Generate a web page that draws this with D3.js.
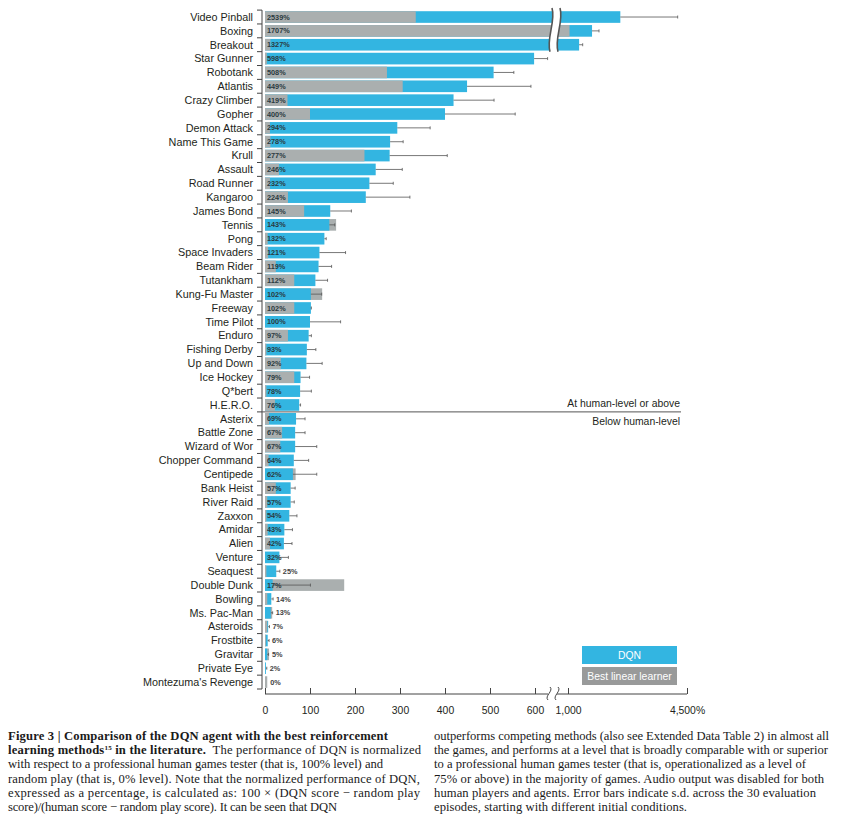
<!DOCTYPE html>
<html>
<head>
<meta charset="utf-8">
<script src="https://cdn.jsdelivr.net/npm/d3@7"></script>
<style>
  body { margin: 0; background: #fff; }
  svg { display: block; }
</style>
</head>
<body>
<svg id="chart" width="855" height="829"></svg>
<script>
//
// Data
//

var games = ["Video Pinball", "Boxing", "Breakout", "Star Gunner", "Robotank", "Atlantis", "Crazy Climber", "Gopher",
  "Demon Attack", "Name This Game", "Krull", "Assault", "Road Runner", "Kangaroo", "James Bond", "Tennis", "Pong",
  "Space Invaders", "Beam Rider", "Tutankham", "Kung-Fu Master", "Freeway", "Time Pilot", "Enduro", "Fishing Derby",
  "Up and Down", "Ice Hockey", "Q*bert", "H.E.R.O.", "Asterix", "Battle Zone", "Wizard of Wor", "Chopper Command",
  "Centipede", "Bank Heist", "River Raid", "Zaxxon", "Amidar", "Alien", "Venture", "Seaquest", "Double Dunk",
  "Bowling", "Ms. Pac-Man", "Asteroids", "Frostbite", "Gravitar", "Private Eye", "Montezuma's Revenge"];

// DQN normalized score (%)
var dqn = [2539, 1707, 1327, 598, 508, 449, 419, 400, 294, 278, 277, 246, 232, 224, 145, 143, 132,
  121, 119, 112, 102, 102, 100, 97, 93, 92, 79, 78, 76, 69, 67, 67, 64,
  62, 57, 57, 54, 43, 42, 32, 25, 17, 14, 13, 7, 6, 5, 2, 0];

// best linear learner normalized score (%)
var linear = [335, 1045, 12, 4, 271, 306, 50, 100, 11, 12, 221, 31, 11, 51, 87, 158, 6,
  7, 24, 65, 127, 65, 0, 51, 3, 35, 65, 3, 22, 9, 38, 34, 8,
  68, 24, 5, 3, 6, 11, 0, 3, 176, 5, 16, 5, 2, 9, 0, 5];

// DQN standard deviation (%)
var dqnSd = [1687, 205, 105, 30, 45, 142, 90, 156, 73, 29, 128, 59, 53, 98, 47, 12, 4,
  58, 29, 27, 24, 1, 68, 6, 20, 35, 20, 25, 3, 20, 22, 48, 33,
  53, 10, 8, 17, 18, 18, 20, 8, 84, 4, 4, 3, 3, 3, 2, 0];

var tickValues = [0, 100, 200, 300, 400, 500, 600, 1000, 4500];
var tickLabels = ["0", "100", "200", "300", "400", "500", "600", "1,000", "4,500%"];

var legendNames = ["DQN", "Best linear learner"];

var captionLeft = [
  [{t: "Figure 3 | Comparison of the DQN agent with the best reinforcement", b: true}],
  [{t: "learning methods", b: true}, {t: "15", b: true, sup: true}, {t: " in the literature.", b: true, down: true}, {t: "  The performance of DQN is normalized"}],
  [{t: "with respect to a professional human games tester (that is, 100% level) and"}],
  [{t: "random play (that is, 0% level). Note that the normalized performance of DQN,"}],
  [{t: "expressed as a percentage, is calculated as: 100 \u00d7 (DQN score \u2212 random play"}],
  [{t: "score)/(human score \u2212 random play score). It can be seen that DQN"}]
];
var captionRight = [
  "outperforms competing methods (also see Extended Data Table 2) in almost all",
  "the games, and performs at a level that is broadly comparable with or superior",
  "to a professional human games tester (that is, operationalized as a level of",
  "75% or above) in the majority of games. Audio output was disabled for both",
  "human players and agents. Error bars indicate s.d. across the 30 evaluation",
  "episodes, starting with different initial conditions."
];
// widths of each caption line as set in the figure
var captionLeftWidth = [380, 413, 375, 412, 412, 329];
var captionRightWidth = [395, 394, 372, 390, 382, 253];

//
// Set up
//

var blue = "#33b5e1", grey = "#aaafaf", greyLegend = "#999a9a", ink = "#231f20", errInk = "#555";
var sans = "'Liberation Sans', Arial, sans-serif";
var svg = d3.select("#chart");

// broken x scale: 0-630 linear, then 1000-4500 compressed
var x = d3.scaleLinear().domain([0, 630, 1000, 4500]).range([265, 548.5, 568, 687]);
var y = d3.scaleBand().domain(games).range([10.1, 689]).paddingInner(0.16).paddingOuter(0.08);
var step = y.step();

var rows = games.map(function(g, i) {
  return {game: g, dqn: dqn[i], lin: linear[i], sd: dqnSd[i]};
});

// bars: longer one behind, shorter one in front
var bars = svg.append("g");
rows.forEach(function(d) {
  var pair = [{v: d.dqn, c: blue}, {v: d.lin, c: grey}];
  pair.sort(function(a, b) { return b.v - a.v; });
  pair.forEach(function(p) {
    bars.append("rect")
      .attr("x", x(0))
      .attr("y", y(d.game))
      .attr("width", Math.max(0, x(p.v) - x(0)))
      .attr("height", y.bandwidth())
      .attr("fill", p.c);
  });
});

// error bars
var err = svg.append("g").attr("stroke", errInk).attr("stroke-width", 0.8);
rows.forEach(function(d) {
  if (d.sd <= 0) return;
  var cy = y(d.game) + y.bandwidth() / 2;
  err.append("line").attr("x1", x(d.dqn)).attr("x2", x(d.dqn + d.sd)).attr("y1", cy).attr("y2", cy);
  err.append("line").attr("x1", x(d.dqn + d.sd)).attr("x2", x(d.dqn + d.sd)).attr("y1", cy - 1.5).attr("y2", cy + 1.5);
});

// percentage labels
svg.append("g").selectAll("text").data(rows).join("text")
  .attr("x", function(d) {
    if (Math.max(d.dqn, d.lin) >= 30) return x(0) + 2;
    return Math.max(x(d.dqn + d.sd), x(d.lin), x(d.dqn)) + 3;
  })
  .attr("y", function(d) { return y(d.game) + y.bandwidth() / 2 + 2.6; })
  .attr("font-family", sans)
  .attr("font-size", "7.3px")
  .attr("font-weight", "bold")
  .attr("fill", function(d) { return Math.max(d.dqn, d.lin) >= 30 ? "#2a3a40" : "#444"; })
  .text(function(d) { return d.dqn + "%"; });

// y axis: line, ticks at band boundaries, labels
var yAxis = svg.append("g").attr("stroke", "#444").attr("stroke-width", 1);
var top0 = y.range()[0], bot0 = y.range()[1];
yAxis.append("line").attr("x1", 262).attr("x2", 262).attr("y1", top0).attr("y2", bot0);
d3.range(games.length + 1).forEach(function(k) {
  var yy = top0 + k * step;
  yAxis.append("line").attr("x1", 257).attr("x2", 262).attr("y1", yy).attr("y2", yy);
});
svg.append("g").selectAll("text").data(games).join("text")
  .attr("x", 253)
  .attr("y", function(g) { return y(g) + y.bandwidth() / 2 + 3.8; })
  .attr("text-anchor", "end")
  .attr("font-family", sans)
  .attr("font-size", "10.8px")
  .attr("fill", ink)
  .text(function(g) { return g; });

// human-level separator
var sepY = top0 + 29 * step;
svg.append("line").attr("x1", 262).attr("x2", 681).attr("y1", sepY).attr("y2", sepY)
  .attr("stroke", "#555").attr("stroke-width", 1);
svg.append("text").attr("x", 680).attr("y", sepY - 5).attr("text-anchor", "end")
  .attr("font-family", sans).attr("font-size", "10.4px").attr("fill", ink).text("At human-level or above");
svg.append("text").attr("x", 680).attr("y", sepY + 13).attr("text-anchor", "end")
  .attr("font-family", sans).attr("font-size", "10.4px").attr("fill", ink).text("Below human-level");

// break marks across the top bars
function wave(cx, y0, y1) {
  var h = y1 - y0;
  return "M" + (cx + 1) + "," + y0 + " C" + (cx + 5) + "," + (y0 + h * 0.3) + " " + (cx - 5) + "," + (y0 + h * 0.7) + " " + (cx - 1) + "," + y1;
}
var bx1 = 551, bx2 = 559, by0 = 8, by1 = top0 + 3 * step;
svg.append("path")
  .attr("d", wave(bx1, by0, by1) + " L" + (bx2 - 1) + "," + by1 + " C" + (bx2 - 5) + "," + (by0 + (by1 - by0) * 0.7) + " " + (bx2 + 5) + "," + (by0 + (by1 - by0) * 0.3) + " " + (bx2 + 1) + "," + by0 + " Z")
  .attr("fill", "#fff");
[bx1, bx2].forEach(function(cx) {
  svg.append("path").attr("d", wave(cx, by0, by1)).attr("fill", "none").attr("stroke", "#555").attr("stroke-width", 1.6);
});

// x axis
var axisY = 694;
var xAxis = d3.axisBottom(x)
  .tickValues(tickValues)
  .tickFormat(function(d, i) { return tickLabels[i]; })
  .tickSizeInner(-6)
  .tickSizeOuter(0)
  .tickPadding(13);
var gx = svg.append("g").attr("transform", "translate(0," + axisY + ")").call(xAxis);
gx.select(".domain").remove();
gx.selectAll(".tick line").attr("stroke", "#444");
gx.selectAll(".tick text").attr("font-family", sans).attr("font-size", "10.4px").attr("fill", ink);
gx.append("line").attr("x1", x(0)).attr("x2", 548).attr("y1", 0).attr("y2", 0).attr("stroke", "#444");
gx.append("line").attr("x1", 557).attr("x2", x(4500)).attr("y1", 0).attr("y2", 0).attr("stroke", "#444");
[549, 557].forEach(function(cx) {
  gx.append("path").attr("d", wave(cx, -7, 6)).attr("fill", "none").attr("stroke", "#444").attr("stroke-width", 1);
});

// legend
var legend = svg.append("g");
[blue, greyLegend].forEach(function(c, i) {
  var ly = 646 + i * 21;
  legend.append("rect").attr("x", 582).attr("y", ly).attr("width", 95).attr("height", 18).attr("fill", c);
  legend.append("text").attr("x", 629.5).attr("y", ly + 13).attr("text-anchor", "middle")
    .attr("font-family", sans).attr("font-size", "10.4px").attr("fill", "#fff").text(legendNames[i]);
});

// caption
var serif = "'Liberation Serif', 'DejaVu Serif', serif";
var cap = svg.append("g").attr("font-family", serif).attr("font-size", "12.6px").attr("fill", "#1a1a1a");
captionLeft.forEach(function(parts, i) {
  var t = cap.append("text").attr("x", 8).attr("y", 740 + i * 14.2)
    .attr("xml:space", "preserve")
    .attr("textLength", captionLeftWidth[i])
    .attr("lengthAdjust", "spacing");
  parts.forEach(function(p) {
    var s = t.append("tspan").text(p.t);
    if (p.b) s.attr("font-weight", "bold");
    if (p.sup) s.attr("font-size", "7px").attr("dy", -4);
    if (p.down) s.attr("dy", 4);
  });
});
captionRight.forEach(function(line, i) {
  cap.append("text").attr("x", 434).attr("y", 740 + i * 14.2)
    .attr("textLength", captionRightWidth[i])
    .attr("lengthAdjust", "spacing")
    .text(line);
});
</script>
</body>
</html>
